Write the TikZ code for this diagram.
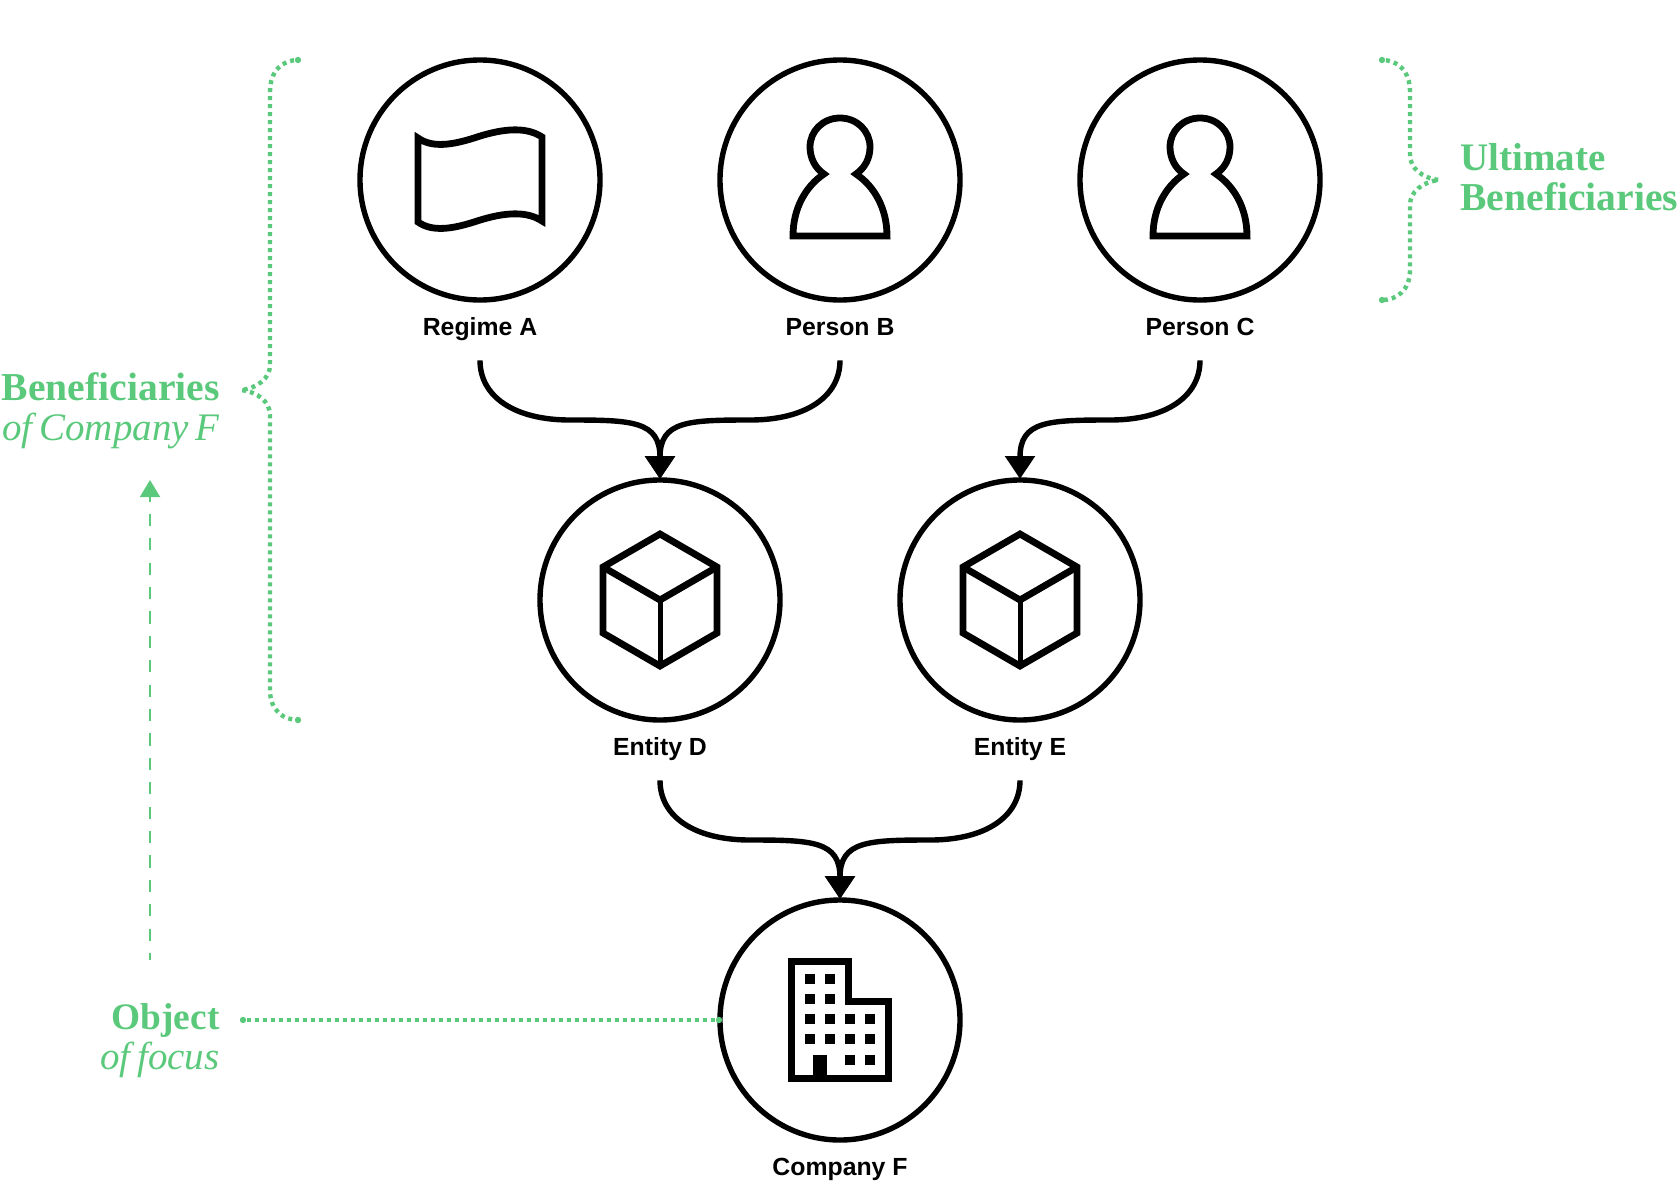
\documentclass[tikz,border=0pt]{standalone}
\usepackage{fontspec}
\setmainfont{Liberation Serif}
\newfontfamily\labelfont{Liberation Sans}
\usetikzlibrary{arrows.meta}
\definecolor{notegreen}{HTML}{5BC97B}

\tikzstyle{party}=[circle, draw=black, line width=2.7pt, minimum size=120pt, inner sep=0, outer sep=0.5pt]
\tikzstyle{caption}=[%
	anchor=base, inner sep=0, text depth=12.5pt, font=\labelfont\bfseries\fontsize{12.4}{14}\selectfont
]
\tikzstyle{note}=[%
	inner sep=0, text=notegreen, font=\fontsize{19.5}{20}\selectfont
]
\tikzstyle{link}=[black, line width=2.7pt, -{Triangle[length=11.5pt, width=14.5pt]}]
\tikzstyle{dots}=[notegreen, line width=2.2pt, line join=round, dash pattern=on 2pt off 2pt, dash phase=2pt]
\tikzstyle{icon}=[black, line width=3.4pt, miter limit=10]

\tikzset{
	flagicon/.pic={
		\draw[icon] (-62,-42) .. controls (-48,-32) and (-28,-35) .. (-6,-42)
			.. controls (18,-50) and (44,-55) .. (62,-43) -- (62,41)
			.. controls (44,29) and (18,34) .. (-6,42)
			.. controls (-28,49) and (-48,52) .. (-62,42) -- cycle;
	},
	personicon/.pic={
		\draw[icon] (-16,-6) .. controls (-25,-12) and (-30,-22) .. (-30,-33)
			.. controls (-30,-49) and (-17,-62) .. (0,-62)
			.. controls (17,-62) and (30,-49) .. (30,-33)
			.. controls (30,-22) and (25,-12) .. (16,-6)
			.. controls (34,6) and (47,28) .. (47,56) -- (-47,56)
			.. controls (-47,28) and (-34,6) .. (-16,-6) -- cycle;
	},
	cubeicon/.pic={
		\draw[icon] (0,-66) -- (57,-33) -- (57,33) -- (0,66) -- (-57,33) -- (-57,-33) -- cycle;
		\draw[icon] (-57,-33) -- (0,0) -- (57,-33);
		\draw[icon, line width=2.5pt] (0,0) -- (0,66);
	},
	towericon/.pic={
		\draw[icon, line width=3.5pt] (-48.5,-58.5) -- (8,-58.5) -- (8,-18.5) -- (48.5,-18.5)
			-- (48.5,58) -- (-48.5,58) -- cycle;
		\foreach \col in {-35,-15} {
			\foreach \row in {-46,-26} {
				\fill (\col,\row) rectangle ++(10,10);
			}
		}
		\foreach \col in {-35,-15,5,25} {
			\foreach \row in {-6,14} {
				\fill (\col,\row) rectangle ++(10,10);
			}
		}
		\foreach \col in {5,25} {
			\fill (\col,35) rectangle ++(10,10);
		}
		\fill (-27,35) rectangle (-13,60);
	}
}

\begin{document}
\begin{tikzpicture}[x=0.5pt, y=-0.5pt]
	\useasboundingbox (0,0) rectangle (1680,1200);

	\node[party] (regimeA) at (480,180) {};
	\node[party] (personB) at (840,180) {};
	\node[party] (personC) at (1200,180) {};
	\node[party] (entityD) at (660,600) {};
	\node[party] (entityE) at (1020,600) {};
	\node[party] (companyF) at (840,1020) {};

	\pic at (regimeA) {flagicon};
	\pic at (personB) {personicon};
	\pic at (personC) {personicon};
	\pic at (entityD) {cubeicon};
	\pic at (entityE) {cubeicon};
	\pic at (companyF) {towericon};

	\node[caption] (capA) at (480,335) {Regime A};
	\node[caption] (capB) at (840,335) {Person B};
	\node[caption] (capC) at (1200,335) {Person C};
	\node[caption] (capD) at (660,755) {Entity D};
	\node[caption] (capE) at (1020,755) {Entity E};
	\node[caption] (capF) at (840,1175) {Company F};

	\coordinate (midAD) at (570,420);
	\coordinate (midBD) at (750,420);
	\coordinate (midCE) at (1110,420);
	\coordinate (midDF) at (750,840);
	\coordinate (midEF) at (930,840);

	\draw[link] (capA.south) .. controls +(0,36) and +(-56,0) .. (midAD)
		.. controls +(62,0) and +(0,-58) .. (entityD.north);
	\draw[link] (capB.south) .. controls +(0,36) and +(56,0) .. (midBD)
		.. controls +(-62,0) and +(0,-58) .. (entityD.north);
	\draw[link] (capC.south) .. controls +(0,36) and +(56,0) .. (midCE)
		.. controls +(-62,0) and +(0,-58) .. (entityE.north);
	\draw[link] (capD.south) .. controls +(0,36) and +(-56,0) .. (midDF)
		.. controls +(62,0) and +(0,-58) .. (companyF.north);
	\draw[link] (capE.south) .. controls +(0,36) and +(56,0) .. (midEF)
		.. controls +(-62,0) and +(0,-58) .. (companyF.north);

	\node[note, anchor=base east, font=\fontsize{19.8}{20}\selectfont] (benefTop) at (220,400) {\bfseries Beneficiaries};
	\node[note, anchor=base east] (benefSub) at (220,440) {\itshape\spaceskip=3.4pt of Company F};
	\node[note, anchor=base west] (ultimateTop) at (1460,170) {\bfseries Ultimate};
	\node[note, anchor=base west, font=\fontsize{19.8}{20}\selectfont] (ultimateSub) at (1460,210) {\bfseries Beneficiaries};
	\node[note, anchor=base east, font=\fontsize{18.7}{20}\selectfont] (objectTop) at (220,1029) {\bfseries Object};
	\node[note, anchor=base east] (objectSub) at (220,1069) {\itshape\spaceskip=3.4pt of focus};

	% brackets
	\coordinate (leftTop) at (298,60);
	\coordinate (leftBot) at (298,720);
	\coordinate (rightTop) at (1382,60);
	\coordinate (rightBot) at (1382,300);
	\draw[dots] (leftTop) .. controls (283,60) and (270,70) .. (270,92) -- (270,365)
		.. controls (270,378) and (258,388) .. (241,390)
		.. controls (258,392) and (270,402) .. (270,415) -- (270,690)
		.. controls (270,710) and (283,720) .. (leftBot);
	\draw[dots] (rightTop) .. controls (1397,60) and (1410,70) .. (1410,92) -- (1410,155)
		.. controls (1410,168) and (1422,178) .. (1439,180)
		.. controls (1422,182) and (1410,192) .. (1410,205) -- (1410,270)
		.. controls (1410,290) and (1397,300) .. (rightBot);

	\coordinate (objectEnd) at (243,1020);
	\draw[dots] (objectEnd) -- (companyF.west);

	\foreach \tip in {leftTop, leftBot, rightTop, rightBot, objectEnd, companyF.west} {
		\fill[notegreen] (\tip) circle (1.6pt);
	}

	\coordinate (focusFoot) at (150,960);
	\coordinate (focusHead) at (150,480);
	\draw[notegreen, line width=1pt, dash pattern=on 6.1pt off 6.1pt, dash phase=2.6pt,
		-{Triangle[length=8.5pt, width=10pt]}] (focusFoot) -- (focusHead);
\end{tikzpicture}
\end{document}
